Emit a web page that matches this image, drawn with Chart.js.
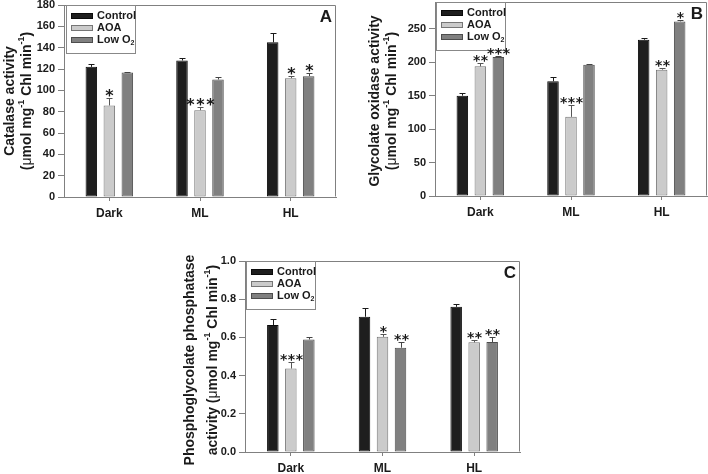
<!DOCTYPE html>
<html><head><meta charset="utf-8">
<script src="https://cdn.jsdelivr.net/npm/chart.js@4.4.1/dist/chart.umd.min.js"></script>
<style>
html,body{margin:0;padding:0;background:#fff;}
#wrap{position:relative;width:708px;height:474px;overflow:hidden;background:#fff;}
canvas{position:absolute;left:0;top:0;}
</style></head><body>
<div id="wrap">
<canvas id="cA" width="708" height="474"></canvas>
<canvas id="cB" width="708" height="474"></canvas>
<canvas id="cC" width="708" height="474"></canvas>
</div>
<script>
// ---------- data ----------
const categories = ['Dark', 'ML', 'HL'];
const seriesNames = ['Control', 'AOA', 'Low O2'];

// Panel A: catalase activity
const catalaseControl = [122, 128, 145];
const catalaseAOA = [85.8, 81.4, 111.4];
const catalaseLowO2 = [116.8, 110.2, 113.3];
const catalaseErrControl = [3, 2, 8.5];
const catalaseErrAOA = [7, 3, 2.2];
const catalaseErrLowO2 = [0.6, 2.5, 3];
const catalaseStarsControl = ['', '', ''];
const catalaseStarsAOA = ['*', '***', '*'];
const catalaseStarsLowO2 = ['', '', '*'];
const catalaseTickValues = [0, 20, 40, 60, 80, 100, 120, 140, 160, 180];
const catalaseTickLabels = ['0', '20', '40', '60', '80', '100', '120', '140', '160', '180'];
const catalaseMax = 180;

// Panel B: glycolate oxidase activity
const gloControl = [150, 171.5, 233.6];
const gloAOA = [193.8, 118.3, 188.9];
const gloLowO2 = [207.8, 196.3, 261];
const gloErrControl = [4, 6, 2.5];
const gloErrAOA = [5, 17, 2];
const gloErrLowO2 = [1, 1, 1.5];
const gloStarsControl = ['', '', ''];
const gloStarsAOA = ['**', '***', '**'];
const gloStarsLowO2 = ['***', '', '*'];
const gloTickValues = [0, 50, 100, 150, 200, 250];
const gloTickLabels = ['0', '50', '100', '150', '200', '250'];
const gloMax = 290;

// Panel C: phosphoglycolate phosphatase activity
const pgpControl = [0.665, 0.708, 0.760];
const pgpAOA = [0.437, 0.603, 0.574];
const pgpLowO2 = [0.589, 0.546, 0.576];
const pgpErrControl = [0.029, 0.047, 0.017];
const pgpErrAOA = [0.036, 0.016, 0.014];
const pgpErrLowO2 = [0.015, 0.031, 0.026];
const pgpStarsControl = ['', '', ''];
const pgpStarsAOA = ['***', '*', '**'];
const pgpStarsLowO2 = ['', '**', '**'];
const pgpTickValues = [0, 0.2, 0.4, 0.6, 0.8, 1.0];
const pgpTickLabels = ['0.0', '0.2', '0.4', '0.6', '0.8', '1.0'];
const pgpMax = 1.0;

// ---------- styles ----------
const FONT = "'Liberation Sans', Arial, Helvetica, sans-serif";
const TXT = '#1a1a1a';
const AXIS = '#808080';
const fills = ['#1e1e1e', '#cbcbcb', '#808080'];
const borders = ['#0a0a0a', '#767676', '#4d4d4d'];
const errColors = ['#1a1a1a', '#555555', '#444444'];

function richWidth(ctx, segs, size) {
  let w = 0;
  segs.forEach(s => {
    const sz = (s.sup || s.sub) ? Math.round(size * 0.65) : size;
    ctx.font = (s.normal ? '' : 'bold ') + sz + 'px ' + FONT;
    w += ctx.measureText(s.t).width;
  });
  return w;
}
function drawRich(ctx, segs, x, y, size, align) {
  const w = richWidth(ctx, segs, size);
  let cx = align === 'center' ? x - w / 2 : x;
  ctx.textAlign = 'left';
  ctx.textBaseline = 'middle';
  segs.forEach(s => {
    const sz = (s.sup || s.sub) ? Math.round(size * 0.65) : size;
    ctx.font = (s.normal ? '' : 'bold ') + sz + 'px ' + FONT;
    const dy = s.sup ? -size * 0.36 : (s.sub ? size * 0.28 : 0);
    ctx.fillText(s.t, cx, y + dy);
    cx += ctx.measureText(s.t).width;
  });
}
function nameSegs(name) {
  if (name.endsWith('O2')) return [{t: name.slice(0, -1)}, {t: '2', sub: true}];
  return [{t: name}];
}
const unitSegs = [{t: '('}, {t: 'μ', normal: true}, {t: 'mol mg'}, {t: '-1', sup: true}, {t: ' Chl min'}, {t: '-1', sup: true}, {t: ')'}];

const panelPlugin = {
  id: 'panel',
  beforeDatasetsDraw(chart, args, o) {
    const ctx = chart.ctx, a = chart.chartArea;
    ctx.save();
    ctx.strokeStyle = AXIS; ctx.lineWidth = 1;
    const L = Math.round(a.left) + 0.5, T = Math.round(a.top) + 0.5, R = Math.round(a.right) - 0.5, B = Math.round(a.bottom) - 0.5;
    ctx.beginPath(); ctx.moveTo(L, T); ctx.lineTo(R, T); ctx.lineTo(R, B); ctx.stroke();
    const lx = Math.round(a.left) + o.legendDx, ly = Math.round(a.top);
    ctx.fillStyle = '#fff'; ctx.fillRect(lx, ly, 69, 48);
    ctx.strokeStyle = '#888'; ctx.strokeRect(lx + 0.5, ly + 0.5, 69, 48);
    chart.data.datasets.forEach((ds, i) => {
      const yy = ly + 11 + 12 * i;
      ctx.fillStyle = ds.backgroundColor; ctx.fillRect(lx + 5, yy - 3, 22, 6);
      ctx.strokeStyle = ds.borderColor; ctx.strokeRect(lx + 5.5, yy - 2.5, 21, 5);
      ctx.fillStyle = TXT;
      drawRich(ctx, nameSegs(ds.label), lx + 31, yy, 11, 'left');
    });
    ctx.restore();
  },
  afterDatasetsDraw(chart, args, o) {
    const ctx = chart.ctx, ys = chart.scales.y;
    chart.data.datasets.forEach((ds, i) => {
      const meta = chart.getDatasetMeta(i);
      meta.data.forEach((bar, j) => {
        const v = ds.data[j], e = ds.errors[j];
        const x = Math.round(bar.x) + 0.5;
        const yE = Math.round(ys.getPixelForValue(v + e)) + 0.5;
        ctx.save();
        ctx.strokeStyle = ds.errorColor; ctx.lineWidth = 1;
        ctx.beginPath();
        ctx.moveTo(x, bar.y); ctx.lineTo(x, yE);
        ctx.moveTo(x - o.cap, yE); ctx.lineTo(x + o.cap, yE);
        ctx.stroke();
        const s = ds.stars[j];
        if (s) {
          ctx.font = 'bold ' + o.starSize + "px 'DejaVu Sans', sans-serif";
          ctx.fillStyle = TXT; ctx.textAlign = 'center'; ctx.textBaseline = 'alphabetic';
          const m = ctx.measureText('*');
          const base = yE - 2 - m.actualBoundingBoxDescent;
          const n = s.length;
          for (let k = 0; k < n; k++) {
            ctx.fillText('*', x + (k - (n - 1) / 2) * o.starGap, base);
          }
        }
        ctx.restore();
      });
    });
  },
  afterDraw(chart, args, o) {
    const ctx = chart.ctx, a = chart.chartArea;
    ctx.save();
    ctx.fillStyle = TXT; ctx.font = 'bold 17px ' + FONT;
    ctx.textAlign = 'right'; ctx.textBaseline = 'middle';
    ctx.fillText(o.letter, a.right - 4, a.top + 12);
    o.title.forEach(line => {
      ctx.save();
      ctx.translate(line.x, o.titleY);
      ctx.rotate(-Math.PI / 2);
      ctx.fillStyle = TXT;
      drawRich(ctx, line.segs, 0, 0, 14, 'center');
      ctx.restore();
    });
    ctx.restore();
  }
};

function makeChart(id, cfg) {
  const [L, T, R, B] = cfg.area;
  const catW = (R - L) / 3;
  return new Chart(document.getElementById(id), {
    type: 'bar',
    data: {
      labels: categories,
      datasets: cfg.series.map((s, i) => ({
        label: seriesNames[i], data: s[0], errors: s[1], stars: s[2],
        backgroundColor: fills[i], borderColor: borders[i], borderWidth: 1,
        borderSkipped: false, errorColor: errColors[i],
        categoryPercentage: 54 / catW, barPercentage: 0.64
      }))
    },
    options: {
      responsive: false, animation: false, events: [],
      layout: {padding: {left: L - 60, top: T, right: 708 - R, bottom: 474 - B - 25}},
      plugins: {
        legend: {display: false}, tooltip: {enabled: false},
        panel: {letter: cfg.letter, title: cfg.title, titleY: cfg.titleY, legendDx: cfg.legendDx,
                cap: 3, starSize: cfg.starSize, starGap: cfg.starGap}
      },
      scales: {
        x: {
          grid: {drawOnChartArea: false, drawTicks: true, tickLength: 4, offset: false, color: AXIS},
          border: {display: true, color: AXIS},
          ticks: {font: {family: FONT, size: 12, weight: 'bold'}, color: TXT, padding: 5, maxRotation: 0, autoSkip: false},
          afterFit: s => { s.height = 25; s.paddingLeft = 0; s.paddingRight = 0; }
        },
        y: {
          min: 0, max: cfg.yMax,
          grid: {drawOnChartArea: false, drawTicks: true, tickLength: 6, color: AXIS},
          border: {display: true, color: AXIS},
          ticks: {font: {family: FONT, size: 11, weight: 'bold'}, color: TXT, padding: 3,
                  callback: (v, i) => cfg.tickLabels[i]},
          afterBuildTicks: s => { s.ticks = cfg.tickValues.map(v => ({value: v})); },
          afterFit: s => { s.width = 60; s.paddingTop = 0; s.paddingBottom = 0; }
        }
      }
    },
    plugins: [panelPlugin]
  });
}

makeChart('cA', {
  area: [64, 5, 336, 197], yMax: catalaseMax, tickValues: catalaseTickValues, tickLabels: catalaseTickLabels,
  series: [[catalaseControl, catalaseErrControl, catalaseStarsControl],
           [catalaseAOA, catalaseErrAOA, catalaseStarsAOA],
           [catalaseLowO2, catalaseErrLowO2, catalaseStarsLowO2]],
  letter: 'A', legendDx: 2, starSize: 16, starGap: 10, titleY: 101,
  title: [{x: 10, segs: [{t: 'Catalase activity'}]}, {x: 27, segs: unitSegs}]
});
makeChart('cB', {
  area: [435, 2, 707, 196], yMax: gloMax, tickValues: gloTickValues, tickLabels: gloTickLabels,
  series: [[gloControl, gloErrControl, gloStarsControl],
           [gloAOA, gloErrAOA, gloStarsAOA],
           [gloLowO2, gloErrLowO2, gloStarsLowO2]],
  letter: 'B', legendDx: 1, starSize: 14, starGap: 7.8, titleY: 101,
  title: [{x: 375, segs: [{t: 'Glycolate oxidase activity'}]}, {x: 392, segs: unitSegs}]
});
makeChart('cC', {
  area: [245, 261, 520, 452], yMax: pgpMax, tickValues: pgpTickValues, tickLabels: pgpTickLabels,
  series: [[pgpControl, pgpErrControl, pgpStarsControl],
           [pgpAOA, pgpErrAOA, pgpStarsAOA],
           [pgpLowO2, pgpErrLowO2, pgpStarsLowO2]],
  letter: 'C', legendDx: 1, starSize: 14, starGap: 7.8, titleY: 360,
  title: [{x: 190, segs: [{t: 'Phosphoglycolate phosphatase'}]}, {x: 213, segs: [{t: 'activity '}].concat(unitSegs)}]
});
</script>
</body></html>
